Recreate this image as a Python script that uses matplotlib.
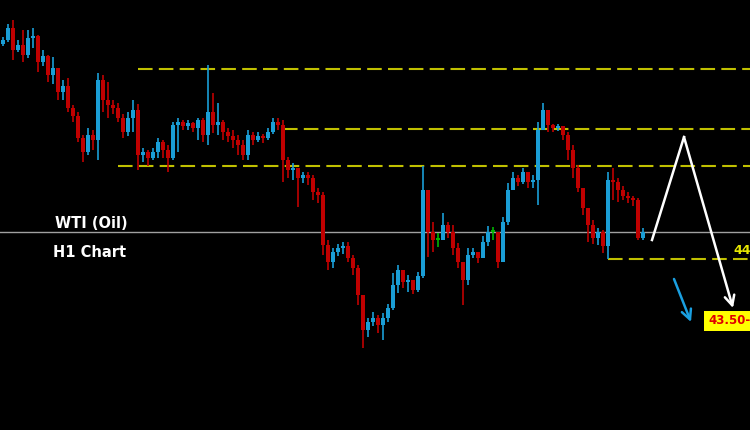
import numpy as np
import matplotlib
matplotlib.use("Agg")
import matplotlib.pyplot as plt

# WTI H1 candles (price), open of each bar = previous close
first_open = 49.02
closes = [49.10, 49.34, 48.90, 49.00, 48.80, 49.14, 49.18, 48.66, 48.78, 48.40,
          48.54, 48.06, 48.18, 47.74, 47.58, 47.14, 46.86, 47.20, 47.10, 48.30,
          47.90, 47.80, 47.74, 47.54, 47.26, 47.54, 47.70, 46.80, 46.86, 46.74,
          46.86, 47.06, 46.90, 46.74, 47.40, 47.46, 47.38, 47.44, 47.34, 47.50,
          47.20, 47.66, 47.40, 47.46, 47.26, 47.18, 47.10, 47.00, 46.80, 47.20,
          47.10, 47.18, 47.14, 47.26, 47.46, 47.40, 46.70, 46.50, 46.54, 46.34,
          46.40, 46.34, 46.06, 46.00, 45.00, 44.66, 44.86, 44.94, 44.98, 44.74,
          44.54, 44.00, 43.30, 43.46, 43.54, 43.40, 43.54, 43.74, 44.20, 44.50,
          44.26, 44.30, 44.10, 44.38, 46.10, 45.26, 45.10, 45.10, 45.40, 45.26,
          44.94, 44.66, 44.30, 44.80, 44.86, 44.74, 45.06, 45.26, 45.26, 44.66,
          45.46, 46.10, 46.34, 46.26, 46.46, 46.26, 46.30, 47.30, 47.70, 47.40,
          47.34, 47.38, 47.20, 46.90, 46.54, 46.14, 45.74, 45.40, 45.14, 45.26,
          44.98, 46.30, 46.26, 46.10, 45.98, 45.94, 45.90, 45.14, 45.26]
highs = [49.16, 49.42, 49.50, 49.10, 49.30, 49.30, 49.34, 49.20, 48.90, 48.80,
         48.76, 48.54, 48.30, 48.34, 47.80, 47.66, 47.20, 47.34, 47.30, 48.44,
         48.40, 48.26, 47.90, 47.84, 47.62, 47.66, 47.90, 47.82, 46.94, 46.90,
         46.94, 47.14, 47.10, 47.00, 47.46, 47.54, 47.50, 47.50, 47.46, 47.54,
         47.54, 48.60, 48.04, 47.84, 47.50, 47.34, 47.30, 47.20, 47.10, 47.30,
         47.26, 47.26, 47.22, 47.34, 47.54, 47.54, 47.50, 46.76, 46.64, 46.54,
         46.46, 46.46, 46.40, 46.14, 46.06, 45.10, 44.94, 45.02, 45.06, 45.06,
         44.80, 44.60, 44.00, 43.54, 43.66, 43.60, 43.64, 43.82, 44.44, 44.60,
         44.50, 44.40, 44.20, 44.46, 46.58, 46.10, 45.46, 45.24, 45.64, 45.46,
         45.40, 45.04, 44.66, 44.94, 44.94, 44.86, 45.18, 45.38, 45.36, 45.18,
         45.56, 46.24, 46.46, 46.40, 46.54, 46.46, 46.40, 47.46, 47.84, 47.66,
         47.42, 47.42, 47.38, 47.26, 47.00, 46.60, 46.14, 45.66, 45.50, 45.34,
         45.30, 46.46, 46.54, 46.34, 46.18, 46.06, 45.98, 45.94, 45.34]
lows = [48.98, 49.06, 48.70, 48.86, 48.66, 48.74, 48.94, 48.46, 48.58, 48.26,
        48.22, 47.90, 47.90, 47.66, 47.46, 47.06, 46.66, 46.80, 46.90, 46.70,
        47.66, 47.54, 47.62, 47.46, 47.14, 47.18, 47.26, 46.50, 46.66, 46.58,
        46.70, 46.74, 46.74, 46.46, 46.70, 46.86, 47.30, 47.30, 47.26, 47.10,
        47.06, 47.00, 47.24, 47.20, 47.10, 47.06, 46.94, 46.80, 46.70, 46.70,
        47.00, 47.06, 47.04, 47.10, 47.22, 47.30, 46.26, 46.34, 46.30, 45.76,
        46.24, 46.20, 45.90, 45.84, 44.80, 44.50, 44.54, 44.78, 44.82, 44.66,
        44.40, 43.80, 42.94, 43.16, 43.38, 43.24, 43.10, 43.46, 43.70, 44.04,
        44.14, 44.06, 44.02, 44.06, 44.34, 44.76, 44.86, 44.96, 45.10, 45.14,
        44.80, 44.54, 43.80, 44.20, 44.74, 44.64, 44.74, 44.98, 45.10, 44.54,
        44.66, 45.40, 46.18, 46.18, 46.22, 46.14, 46.14, 45.80, 47.34, 47.26,
        47.26, 47.28, 47.10, 46.70, 46.34, 46.06, 45.60, 45.06, 45.02, 45.00,
        44.84, 44.72, 45.90, 45.86, 45.90, 45.84, 45.78, 45.10, 45.10]

levels = [48.52, 47.32, 46.58, 44.72]      # dashed support / resistance
level_start = [27, 56, 23, 121]            # bar index where each level starts
last_price = 45.26
target_text = "43.50-80"
support_text = "44.72"

closes = np.array(closes)
opens = np.concatenate([[first_open], closes[:-1]])
highs = np.maximum(np.array(highs), np.maximum(opens, closes))
lows = np.minimum(np.array(lows), np.minimum(opens, closes))
idx = np.arange(len(closes))

up_col, down_col, flat_col = "#1a9ed6", "#c00000", "#00b400"
colors = [up_col if c > o else (down_col if c < o else flat_col)
          for o, c in zip(opens, closes)]

fig = plt.figure(figsize=(7.5, 4.3), dpi=100, facecolor="black")
ax = fig.add_axes([0, 0, 1, 1], facecolor="black")
ax.set_xlim(-0.5, 149.5)
ax.set_ylim(41.30, 49.90)
ax.axis("off")

ax.axhline(last_price, color="#a0a0a0", lw=1, zorder=1)
for lv, st in zip(levels, level_start):
    ax.hlines(lv, st, 149.5, colors="#c0c000", lw=1.5,
              linestyles=(0, (7, 3)), zorder=1)

ax.vlines(idx, lows, highs, colors=colors, lw=1.2, zorder=2)
body = np.maximum(np.abs(closes - opens), 0.03)
ax.bar(idx, body, bottom=np.minimum(opens, closes), width=0.8,
       color=colors, linewidth=0, zorder=3)

ax.text(17.7, 45.42, "WTI (Oil)", color="white", fontsize=10.5,
        fontweight="bold", ha="center", va="center")
ax.text(17.5, 44.84, "H1 Chart", color="white", fontsize=10.5,
        fontweight="bold", ha="center", va="center")
ax.text(146.2, 44.90, support_text, color="#e6e600", fontsize=9,
        fontweight="bold", ha="left", va="center")
ax.text(141.1, 43.48, target_text, color="#e00000", fontsize=8.5,
        fontweight="bold", ha="left", va="center",
        bbox=dict(boxstyle="square,pad=0.3", facecolor="#ffff00", edgecolor="none"))

# projected path
ax.plot([129.9, 136.3], [45.10, 47.16], color="white", lw=1.8, zorder=4)
ax.annotate("", xy=(146.1, 43.74), xytext=(136.3, 47.16),
            arrowprops=dict(arrowstyle="->,head_length=0.7,head_width=0.35",
                            color="white", lw=1.8, shrinkA=0, shrinkB=0))
ax.annotate("", xy=(137.7, 43.46), xytext=(134.3, 44.32),
            arrowprops=dict(arrowstyle="->,head_length=0.7,head_width=0.35",
                            color="#1a9fe0", lw=1.8, shrinkA=0, shrinkB=0))

fig.savefig("out.png", dpi=100, facecolor="black")
